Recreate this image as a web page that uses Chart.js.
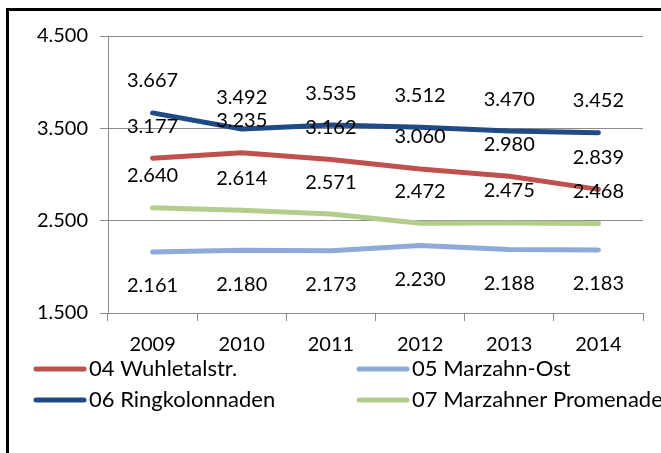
<!DOCTYPE html>
<html>
<head>
<meta charset="utf-8">
<script src="https://cdn.jsdelivr.net/npm/chart.js@4"></script>
<style>
  body { margin: 0; background: #fff; overflow: hidden; }
  #frame {
    position: absolute; left: 6px; top: 8px; width: 700px; height: 500px;
    border-left: 3px solid #000; border-top: 3px solid #000;
  }
  #wrap { position: absolute; left: 0; top: 0; width: 661px; height: 453px; }
</style>
</head>
<body>
<div id="frame"></div>
<div id="wrap"><canvas id="chart"></canvas></div>
<script>
const years = ['2009', '2010', '2011', '2012', '2013', '2014'];
const seriesNames = ['04 Wuhletalstr.', '05 Marzahn-Ost', '06 Ringkolonnaden', '07 Marzahner Promenade'];
const wuhletalstr = [3177, 3235, 3162, 3060, 2980, 2839];
const marzahnOst = [2161, 2180, 2173, 2230, 2188, 2183];
const ringkolonnaden = [3667, 3492, 3535, 3512, 3470, 3452];
const promenade = [2640, 2614, 2571, 2472, 2475, 2468];
const yTicks = [1500, 2500, 3500, 4500];

const FONT = 'Lato, "Liberation Sans", sans-serif';

// 3667 -> "3.667"
function fmt(v) {
  return String(Math.round(v)).replace(/\B(?=(\d{3})+(?!\d))/g, '.');
}

function line(label, data, color, labelSide) {
  return {
    label, data,
    borderColor: color, backgroundColor: color,
    borderWidth: 5, pointRadius: 0, tension: 0,
    borderCapStyle: 'round', borderJoinStyle: 'round',
    labelSide
  };
}

// value labels above/below each point
const valueLabels = {
  id: 'valueLabels',
  afterDatasetsDraw(chart) {
    const ctx = chart.ctx;
    ctx.save();
    ctx.font = '20px ' + FONT;
    ctx.fillStyle = '#000';
    ctx.textAlign = 'center';
    ctx.textBaseline = 'middle';
    chart.data.datasets.forEach((ds, i) => {
      const meta = chart.getDatasetMeta(i);
      const dy = ds.labelSide === 'below' ? 34 : -32;
      meta.data.forEach((pt, j) => {
        ctx.fillText(fmt(ds.data[j]), pt.x, pt.y + dy);
      });
    });
    ctx.restore();
  }
};

// two-column legend under the axis
const gridLegend = {
  id: 'gridLegend',
  afterDraw(chart) {
    const ctx = chart.ctx;
    const area = chart.chartArea;
    const colX = [area.left - 74, area.left + 249];
    const rowY = [area.bottom + 56, area.bottom + 87];
    ctx.save();
    ctx.font = '22px ' + FONT;
    ctx.textBaseline = 'middle';
    ctx.textAlign = 'left';
    chart.data.datasets.forEach((ds, i) => {
      const x = colX[i % 2];
      const y = rowY[Math.floor(i / 2)];
      ctx.strokeStyle = ds.borderColor;
      ctx.lineWidth = 5;
      ctx.lineCap = 'round';
      ctx.beginPath();
      ctx.moveTo(x + 2, y);
      ctx.lineTo(x + 50, y);
      ctx.stroke();
      ctx.fillStyle = '#000';
      ctx.fillText(ds.label, x + 55, y);
    });
    ctx.restore();
  }
};

new Chart(document.getElementById('chart'), {
  type: 'line',
  data: {
    labels: years,
    datasets: [
      line(seriesNames[0], wuhletalstr, '#c0504d', 'above'),
      line(seriesNames[1], marzahnOst, '#8eaad8', 'below'),
      line(seriesNames[2], ringkolonnaden, '#1f4a85', 'above'),
      line(seriesNames[3], promenade, '#b3cd8c', 'above')
    ]
  },
  options: {
    responsive: true,
    maintainAspectRatio: false,
    animation: false,
    layout: { padding: { left: 0, top: 36, right: 18, bottom: 100 } },
    plugins: {
      legend: { display: false },
      title: { display: false },
      tooltip: { enabled: false }
    },
    scales: {
      x: {
        offset: true,
        grid: { offset: true, drawOnChartArea: false, tickLength: 8, color: '#8a8a8a' },
        border: { color: '#8a8a8a', width: 1 },
        ticks: { font: { family: FONT, size: 20 }, color: '#000', padding: 12, maxRotation: 0 },
        afterFit(scale) { scale.height = 40; }
      },
      y: {
        min: yTicks[0],
        max: yTicks[yTicks.length - 1],
        afterBuildTicks(scale) { scale.ticks = yTicks.map(v => ({ value: v })); },
        grid: { color: '#8a8a8a', tickLength: 8 },
        border: { color: '#8a8a8a', width: 1 },
        ticks: {
          font: { family: FONT, size: 20 }, color: '#000', padding: 12,
          callback: v => fmt(v)
        },
        afterFit(scale) { scale.width = 108; }
      }
    }
  },
  plugins: [valueLabels, gridLegend]
});
</script>
</body>
</html>
